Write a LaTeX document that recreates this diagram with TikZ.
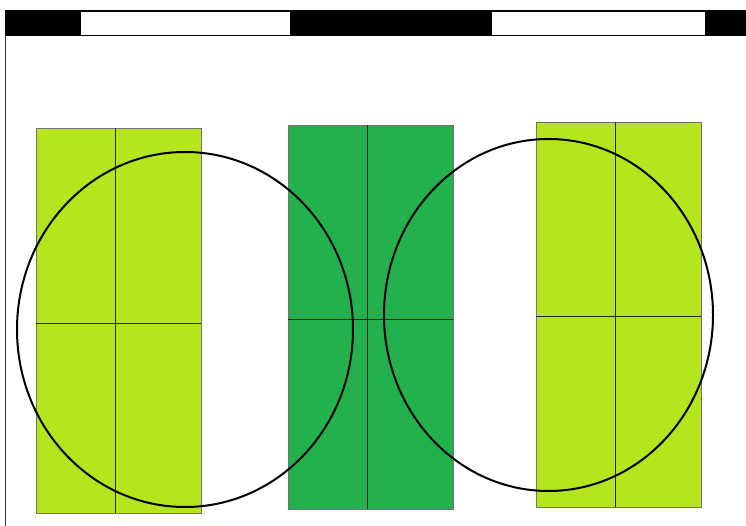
\documentclass[tikz,border=0pt]{standalone}
\usepackage{tikz}
\definecolor{limegrn}{HTML}{B5E61D}
\definecolor{darkgrn}{HTML}{22B14C}
\tikzset{
  court/.style={draw=black!55,line width=.6pt},
  divline/.style={black!85,line width=.5pt},
  ring/.style={draw=black,line width=2pt},
  barbox/.style={draw=black,fill=white,line width=.8pt},
}

\begin{document}
\begin{tikzpicture}[x=1pt,y=-1pt]
    \useasboundingbox (0,0) rectangle (746,526);

    % top bar
    \fill[black] (5,10) rectangle (746,36);
    \draw[barbox] (80,11) rectangle (290,35);
    \draw[barbox] (491,11) rectangle (705,35);
    \draw[black!80,line width=.8pt] (5,36) -- (5,526);

    \begin{scope}[shift={(36,128)}]
      \draw[court,fill=limegrn] (0,0) rectangle (165,385);
      \draw[divline] (79,0) -- (79,385);
      \draw[divline] (0,195) -- (165,195);
    \end{scope}

    \begin{scope}[shift={(288,125)}]
      \draw[court,fill=darkgrn] (0,0) rectangle (165,384);
      \draw[divline] (79,0) -- (79,384);
      \draw[divline] (0,194) -- (165,194);
    \end{scope}

    \begin{scope}[shift={(536,122)}]
      \draw[court,fill=limegrn] (0,0) rectangle (165,385);
      \draw[divline] (79,0) -- (79,385);
      \draw[divline] (0,194) -- (165,194);
    \end{scope}

    \draw[ring] (185,329.5) ellipse[x radius=168pt,y radius=177.5pt];
    \draw[ring] (548.5,315) ellipse[x radius=164.5pt,y radius=176pt];
  \end{tikzpicture}
\end{document}
